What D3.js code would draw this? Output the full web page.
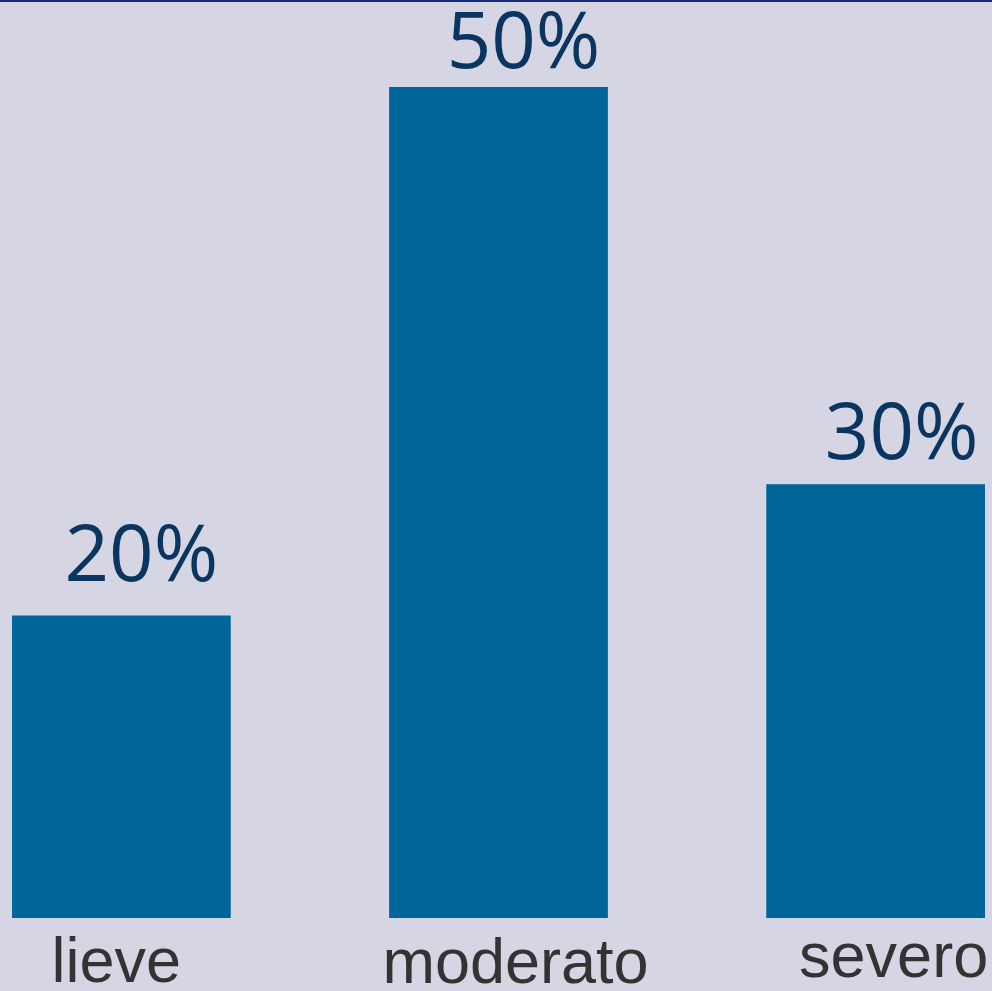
<!DOCTYPE html>
<html>
<head>
<meta charset="utf-8">
<script src="https://cdnjs.cloudflare.com/ajax/libs/d3/7.8.5/d3.min.js"></script>
<style>
  html, body { margin: 0; padding: 0; background: #d5d5e3; }
  svg { display: block; }
</style>
</head>
<body>
<svg></svg>
<script>
// categories and values
var categories = ["lieve", "moderato", "severo"];
// bar heights as drawn in the picture (the source bars are not quite to scale)
var barValues = [18.2, 50, 26.1];
// labels printed above the bars
var valueLabels = ["20%", "50%", "30%"];

var svgWidth = 992, svgHeight = 991;
var margin = { top: 87, right: 7, bottom: 73, left: 12 };
var width = svgWidth - margin.left - margin.right;
var height = svgHeight - margin.top - margin.bottom;

var svg = d3.select("svg")
    .attr("width", svgWidth)
    .attr("height", svgHeight);

// background + thin dark rule at the top
svg.append("rect")
    .attr("width", svgWidth)
    .attr("height", svgHeight)
    .attr("fill", "#d5d5e3");
svg.append("line")
    .attr("x1", 0).attr("x2", svgWidth)
    .attr("y1", 1).attr("y2", 1)
    .attr("stroke", "#142c78")
    .attr("stroke-width", 2);

var g = svg.append("g")
    .attr("transform", "translate(" + margin.left + "," + margin.top + ")");

var x = d3.scaleBand()
    .domain(categories)
    .range([0, width])
    .paddingInner(0.42)
    .paddingOuter(0);

var y = d3.scaleLinear()
    .domain([0, d3.max(barValues)])
    .range([height, 0]);

var data = categories.map(function(c, i) {
    return { cat: c, value: barValues[i], label: valueLabels[i] };
});

// small per-label nudges to follow the original layout
var labelDx = [20, 25, 26];
var labelGap = [35, 19, 25];

// bars
g.selectAll(".bar")
    .data(data)
    .enter().append("rect")
    .attr("class", "bar")
    .attr("x", function(d) { return x(d.cat); })
    .attr("y", function(d) { return y(d.value); })
    .attr("width", x.bandwidth())
    .attr("height", function(d) { return height - y(d.value); })
    .attr("fill", "#006699");

// value labels above bars
g.selectAll(".val")
    .data(data)
    .enter().append("text")
    .attr("class", "val")
    .attr("x", function(d, i) { return x(d.cat) + x.bandwidth() / 2 + labelDx[i]; })
    .attr("y", function(d, i) { return y(d.value) - labelGap[i]; })
    .attr("text-anchor", "middle")
    .attr("font-family", "'Open Sans', sans-serif")
    .attr("font-size", 78)
    .attr("fill", "#0a3560")
    .text(function(d) { return d.label; });

// category axis, no line or ticks
var xAxis = g.append("g")
    .attr("transform", "translate(0," + height + ")")
    .call(d3.axisBottom(x).tickSize(0).tickPadding(0));
xAxis.select(".domain").remove();
xAxis.selectAll("text")
    .attr("dy", 0)
    .attr("y", function(d, i) { return [64, 65, 59][i]; })
    .attr("dx", function(d, i) { return [-5, 17, 18][i]; })
    .attr("font-family", "'Liberation Sans', Arial, sans-serif")
    .attr("font-size", 63)
    .attr("fill", "#333333");
</script>
</body>
</html>
